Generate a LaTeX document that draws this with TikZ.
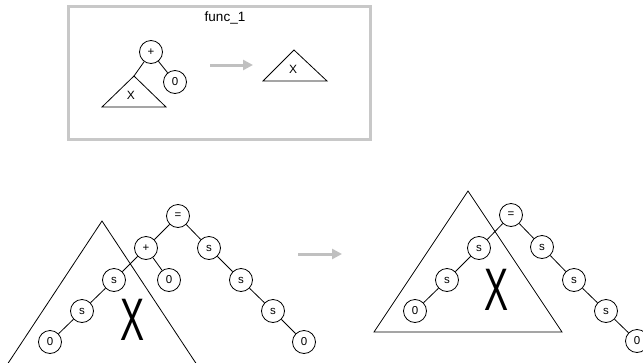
\documentclass[tikz,border=0pt]{standalone}
\usepackage{fontspec}
\setmainfont{Liberation Sans}
\usetikzlibrary{arrows.meta}
\definecolor{boxgray}{RGB}{200,200,200}
\definecolor{arrowgray}{RGB}{192,192,192}
\begin{document}
\begin{tikzpicture}[x=1pt,y=-1pt,
  nd/.style={circle,draw,line width=0.8pt,minimum size=23pt,inner sep=0pt,font=\fontsize{11.5}{12}\selectfont},
  edge/.style={line width=0.8pt},
  tri/.style={line width=0.8pt},
  smallx/.style={inner sep=0pt,font=\fontsize{12}{13}\selectfont},
  titlex/.style={inner sep=0pt,font=\fontsize{13.5}{14}\selectfont},
  bigx/.style={inner sep=0pt,font=\fontsize{60}{60}\selectfont,xscale=0.6},
  garrow/.style={draw=arrowgray,line width=3pt,-{Triangle[length=10pt,width=10pt]}},
  gbox/.style={draw=boxgray,line width=3pt}]
\useasboundingbox (0,0) rectangle (643,362);
\clip (0,0) rectangle (643,362);

% ---------- top box ----------
\draw[gbox] (68,6) rectangle (370,139);
\node[titlex] (title) at (225,18) {func\_1};

\node[nd] (tp) at (151,52) {+};
\node[nd] (tz) at (175,82) {0};
\coordinate (tA) at (134,76);
\draw[tri] (tA) -- (102,107) -- (166,107) -- cycle;
\node[smallx] (tX) at (131,95) {X};
\draw[edge] (tp) -- (tA);
\draw[edge] (tp) -- (tz);

\coordinate (ta1) at (210,65);
\coordinate (ta2) at (253,65);
\draw[garrow] (ta1) -- (ta2);

\coordinate (tB) at (294,50);
\draw[tri] (tB) -- (263,81) -- (327,81) -- cycle;
\node[smallx] (tX2) at (293,69) {X};

% ---------- bottom left ----------
\coordinate (bA) at (102,221);
\draw[tri] (-3,380) -- (bA) -- (207,380);
\node[bigx] (bX) at (133,320) {X};

\node[nd] (eq) at (178,216) {=};
\node[nd] (pl) at (146,248) {+};
\node[nd] (r1) at (209,248) {s};
\node[nd] (l1) at (114,280) {s};
\node[nd] (z1) at (169,280) {0};
\node[nd] (r2) at (241,280) {s};
\node[nd] (l2) at (82,311) {s};
\node[nd] (r3) at (273,311) {s};
\node[nd] (l3) at (50,342) {0};
\node[nd] (r4) at (304,342) {0};
\draw[edge] (eq) -- (pl);
\draw[edge] (eq) -- (r1);
\draw[edge] (pl) -- (l1);
\draw[edge] (pl) -- (z1);
\draw[edge] (l1) -- (l2);
\draw[edge] (l2) -- (l3);
\draw[edge] (r1) -- (r2);
\draw[edge] (r2) -- (r3);
\draw[edge] (r3) -- (r4);

\coordinate (ba1) at (298,254);
\coordinate (ba2) at (342,254);
\draw[garrow] (ba1) -- (ba2);

% ---------- bottom right ----------
\coordinate (cA) at (468,191);
\draw[tri] (cA) -- (374,332) -- (562,332) -- cycle;
\node[bigx] (cX) at (497,290) {X};

\node[nd] (ceq) at (511,215) {=};
\node[nd] (cl1) at (479,248) {s};
\node[nd] (cr1) at (542,247) {s};
\node[nd] (cl2) at (447,280) {s};
\node[nd] (cr2) at (574,280) {s};
\node[nd] (cl3) at (415,311) {0};
\node[nd] (cr3) at (606,311) {s};
\node[nd] (cr4) at (637,341) {0};
\draw[edge] (ceq) -- (cl1);
\draw[edge] (ceq) -- (cr1);
\draw[edge] (cl1) -- (cl2);
\draw[edge] (cl2) -- (cl3);
\draw[edge] (cr1) -- (cr2);
\draw[edge] (cr2) -- (cr3);
\draw[edge] (cr3) -- (cr4);
\end{tikzpicture}
\end{document}
